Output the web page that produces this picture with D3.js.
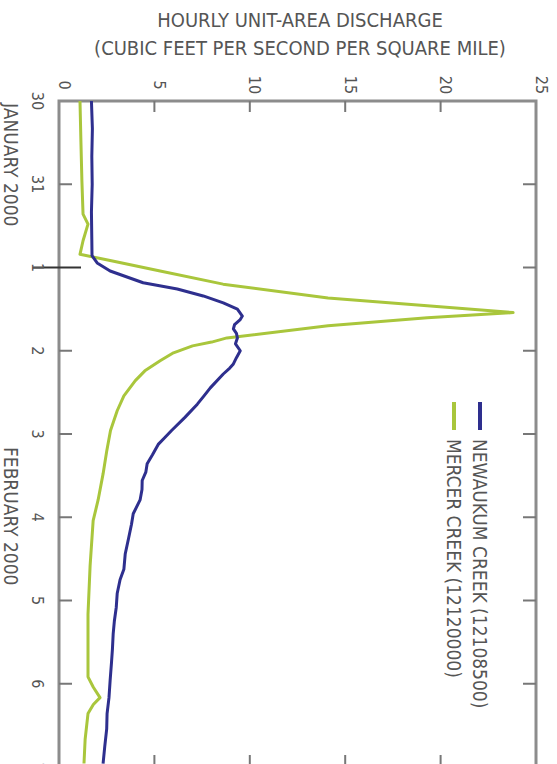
<!DOCTYPE html>
<html>
<head>
<meta charset="utf-8">
<script src="https://d3js.org/d3.v7.min.js"></script>
<style>
    body { margin: 0; background: #fff; }
    text { font-family: "Liberation Sans Narrow", "DejaVu Sans Condensed", sans-serif; fill: #555; }
</style>
</head>
<body>
<script>
    // hours after 30 January 2000 00:00 and discharge values (cfs per sq mi)
    var newaukumHours = [0, 8, 16, 24, 32, 40, 44.6, 46.7, 49, 52.4, 54.2, 56.2, 58.2, 60, 62, 63, 64.5, 65.7, 67, 68.3, 70, 72, 74, 75.8, 77, 78.7, 82.7, 85, 87.4, 91.2, 95, 97, 99, 102, 104.6, 107, 109.4, 112, 115, 119, 122, 126, 130.6, 135, 138, 142, 146, 150, 153.6, 158, 162, 167, 172, 176.6, 181, 186, 191];
    var newaukumValues = [1.7, 1.75, 1.72, 1.74, 1.7, 1.72, 1.73, 2.0, 2.68, 4.41, 6.2, 7.56, 8.61, 9.35, 9.61, 9.5, 9.2, 9.14, 9.3, 9.35, 9.25, 9.5, 9.3, 9.14, 8.95, 8.61, 7.93, 7.6, 7.25, 6.6, 5.9, 5.55, 5.2, 4.9, 4.62, 4.55, 4.36, 4.35, 4.25, 3.89, 3.8, 3.65, 3.47, 3.4, 3.2, 3.05, 3.0, 2.9, 2.84, 2.8, 2.75, 2.68, 2.62, 2.52, 2.5, 2.4, 2.31];

    var mercerHours = [0, 12, 23, 32.6, 35.5, 40.3, 44.2, 46, 49, 52.8, 56.8, 59, 61, 62.5, 64.8, 68.3, 69.5, 70.6, 72.6, 74.9, 77.8, 80.6, 85, 89.3, 95, 101, 107.5, 115, 121, 134, 148, 166, 169, 172, 174, 176.6, 184, 191];
    var mercerValues = [1.1, 1.15, 1.2, 1.26, 1.52, 1.26, 1.1, 2.68, 5.3, 8.6, 14.1, 19.3, 23.8, 19.3, 14.1, 8.8, 8.0, 7.0, 6.0, 5.3, 4.5, 4.0, 3.4, 3.05, 2.7, 2.5, 2.31, 2.05, 1.79, 1.63, 1.52, 1.52, 1.8, 2.15, 1.8, 1.52, 1.37, 1.31];

    var valueTicks = [0, 5, 10, 15, 20, 25];
    var dayTicks = ["30", "31", "1", "2", "3", "4", "5", "6", "7"];
    var seriesNames = ["NEWAUKUM CREEK (12108500)", "MERCER CREEK (12120000)"];
    var seriesColors = ["#2e2f8e", "#a9c63c"];

    var W = 557, H = 764;
    var mLeft = 59, mRight = 536, mTop = 101, mBottom = 767;

    var start = new Date(Date.UTC(2000, 0, 30));
    function toDate(h) { return new Date(start.getTime() + h * 3600000); }

    var svg = d3.select("body").append("svg")
        .attr("width", W)
        .attr("height", H);

    // rotated chart: value runs left to right, time runs top to bottom
    var x = d3.scaleLinear()
        .domain([0, 25])
        .range([mLeft, mRight]);
    var y = d3.scaleUtc()
        .domain([start, toDate(192)])
        .range([mTop, mBottom]);

    // title
    svg.append("text")
        .attr("x", 300).attr("y", 27)
        .attr("text-anchor", "middle")
        .style("font-size", "20px")
        .text("HOURLY UNIT-AREA DISCHARGE");
    svg.append("text")
        .attr("x", 300).attr("y", 55)
        .attr("text-anchor", "middle")
        .style("font-size", "20px")
        .text("(CUBIC FEET PER SECOND PER SQUARE MILE)");

    var days = d3.range(dayTicks.length).map(function (i) { return toDate(i * 24); });

    // frame
    svg.append("rect")
        .attr("x", mLeft).attr("y", mTop)
        .attr("width", mRight - mLeft).attr("height", mBottom - mTop)
        .attr("fill", "none")
        .attr("stroke", "#8c8c8c")
        .attr("stroke-width", 3);

    // value ticks, top and bottom, pointing inward
    svg.selectAll(".vt-top")
        .data(valueTicks.slice(1, -1))
        .enter().append("line")
        .attr("x1", function (d) { return x(d); })
        .attr("x2", function (d) { return x(d); })
        .attr("y1", mTop).attr("y2", mTop + 11)
        .attr("stroke", "#777").attr("stroke-width", 2);
    svg.selectAll(".vt-bot")
        .data(valueTicks.slice(1, -1))
        .enter().append("line")
        .attr("x1", function (d) { return x(d); })
        .attr("x2", function (d) { return x(d); })
        .attr("y1", mBottom - 12).attr("y2", mBottom)
        .attr("stroke", "#777").attr("stroke-width", 2);

    svg.selectAll(".vl")
        .data(valueTicks)
        .enter().append("text")
        .attr("transform", function (d) { return "translate(" + (x(d) + 5) + ",85) rotate(90)"; })
        .attr("text-anchor", "middle")
        .attr("dominant-baseline", "central")
        .style("font-size", "16px")
        .text(function (d) { return d; });

    // day ticks, left and right
    svg.selectAll(".dt-left")
        .data(days.slice(1))
        .enter().append("line")
        .attr("x1", function (d, i) { return i == 1 ? 33 : mLeft; })
        .attr("x2", function (d, i) { return i == 1 ? mLeft + 22 : mLeft + 13; })
        .attr("y1", function (d) { return y(d); })
        .attr("y2", function (d) { return y(d); })
        .attr("stroke", function (d, i) { return i == 1 ? "#333" : "#777"; })
        .attr("stroke-width", 2);
    svg.selectAll(".dt-right")
        .data(days.slice(1))
        .enter().append("line")
        .attr("x1", mRight - 13).attr("x2", mRight)
        .attr("y1", function (d) { return y(d); })
        .attr("y2", function (d) { return y(d); })
        .attr("stroke", "#777").attr("stroke-width", 2);

    svg.selectAll(".dl")
        .data(days)
        .enter().append("text")
        .attr("transform", function (d) { return "translate(37," + y(d) + ") rotate(90)"; })
        .attr("text-anchor", "middle")
        .attr("dominant-baseline", "central")
        .style("font-size", "16px")
        .text(function (d, i) { return dayTicks[i]; });

    svg.append("text")
        .attr("transform", "translate(11,103) rotate(90)")
        .attr("dominant-baseline", "central")
        .style("font-size", "19px")
        .text("JANUARY 2000");
    svg.append("text")
        .attr("transform", "translate(11,447) rotate(90)")
        .attr("dominant-baseline", "central")
        .style("font-size", "19px")
        .text("FEBRUARY 2000");

    // lines
    var line = d3.line()
        .x(function (d) { return x(d[1]); })
        .y(function (d) { return y(toDate(d[0])); });

    svg.append("path")
        .datum(d3.zip(mercerHours, mercerValues))
        .attr("d", line)
        .attr("fill", "none")
        .attr("stroke", seriesColors[1])
        .attr("stroke-width", 3)
        .attr("stroke-linejoin", "round");
    svg.append("path")
        .datum(d3.zip(newaukumHours, newaukumValues))
        .attr("d", line)
        .attr("fill", "none")
        .attr("stroke", seriesColors[0])
        .attr("stroke-width", 3)
        .attr("stroke-linejoin", "round");

    // legend
    var legendX = [480, 454];
    seriesNames.forEach(function (name, i) {
        svg.append("line")
            .attr("x1", legendX[i]).attr("x2", legendX[i])
            .attr("y1", 402).attr("y2", 430)
            .attr("stroke", seriesColors[i])
            .attr("stroke-width", 4);
        svg.append("text")
            .attr("transform", "translate(" + legendX[i] + ",439) rotate(90)")
            .attr("dominant-baseline", "central")
            .style("font-size", "19px")
            .text(name);
    });
</script>
</body>
</html>
